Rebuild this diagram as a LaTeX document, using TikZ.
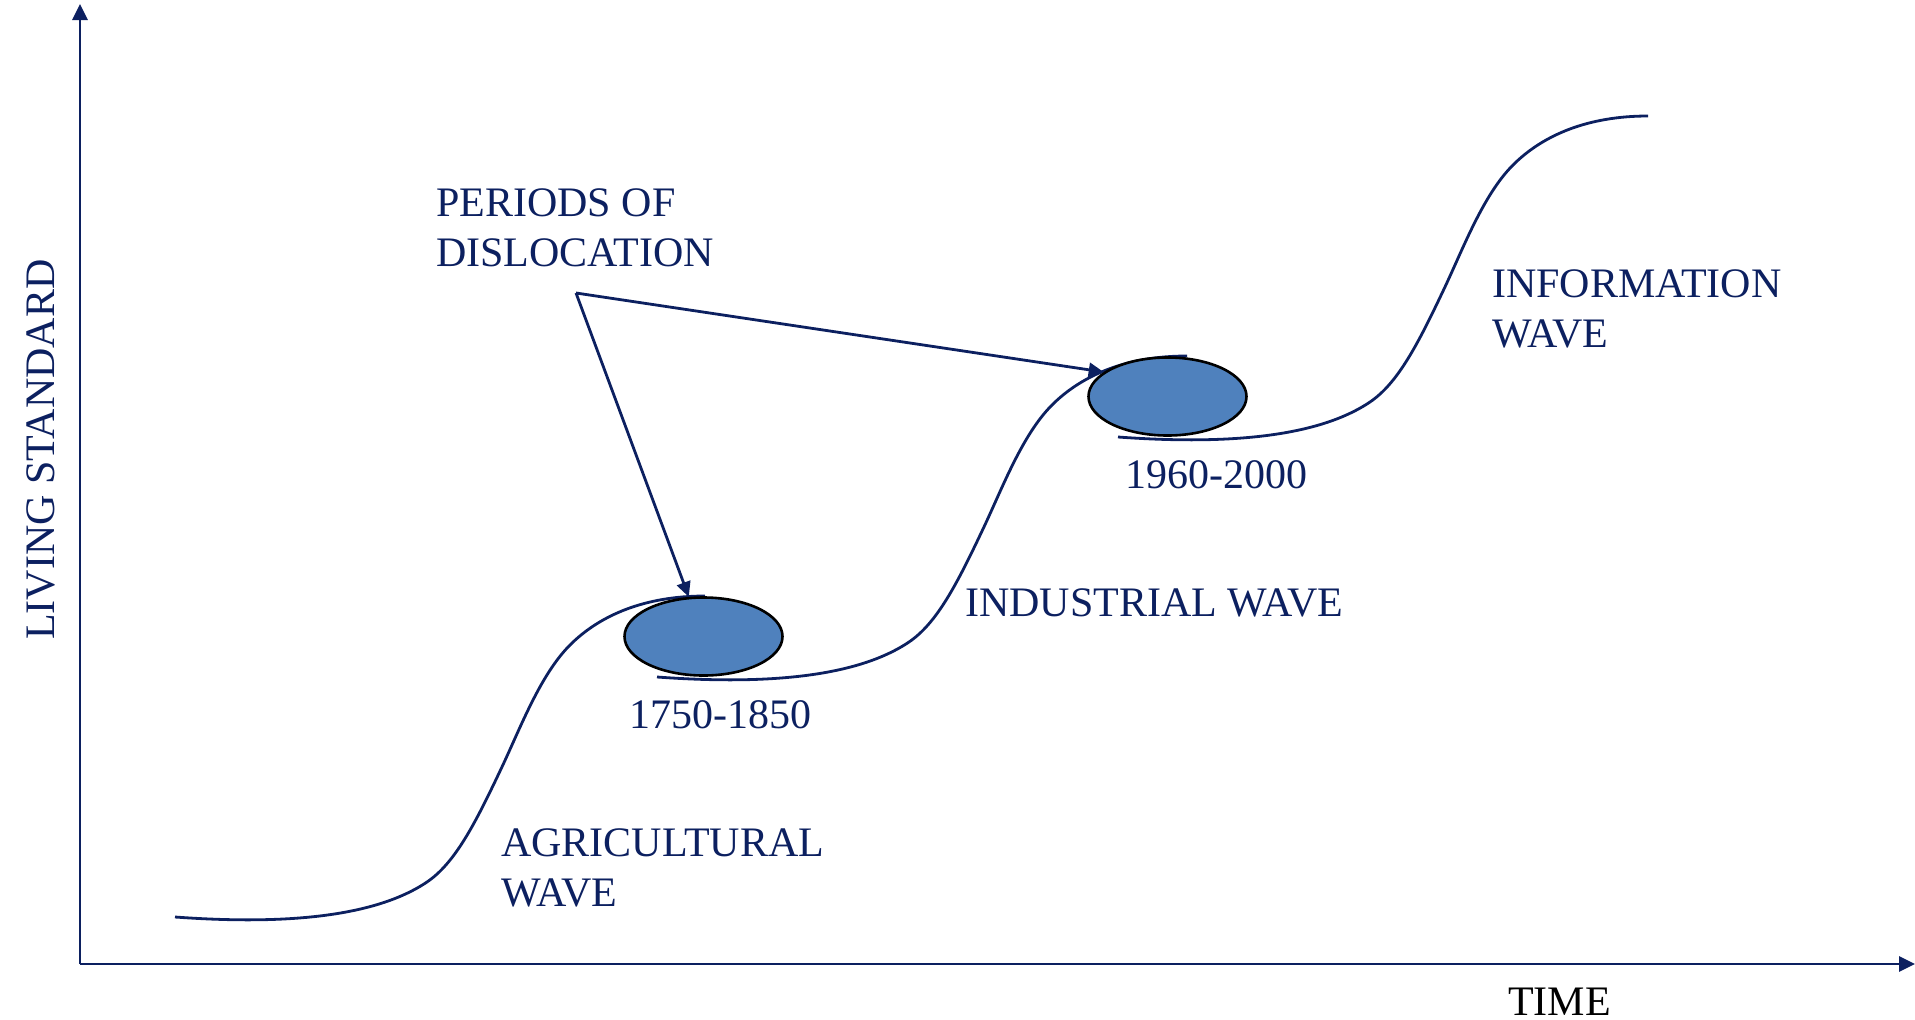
\documentclass[tikz,border=0pt]{standalone}
\usepackage{fontspec}
\setmainfont{Liberation Serif}
\usetikzlibrary{arrows.meta,shapes.geometric}
\definecolor{navy}{RGB}{12,32,96}
\definecolor{blobfill}{RGB}{79,129,189}
\tikzset{
  axis/.style={navy,line width=2.8pt,-{Triangle[length=16pt,width=15pt]}},
  curve/.style={navy,line width=2.8pt},
  pointer/.style={navy,line width=2.8pt,-{Triangle[length=15pt,width=14pt]}},
  blob/.style={ellipse,draw=black,line width=2.6pt,fill=blobfill,inner sep=0pt,minimum width=158pt,minimum height=78pt},
  lbl/.style={text=navy,inner sep=0pt,align=left,font=\fontsize{42}{50}\selectfont},
  wave/.pic={\draw[curve] (0,0) .. controls (110,8) and (200,0) .. (252,-35)
      .. controls (280,-54) and (300,-93) .. (326,-148)
      .. controls (345,-188) and (365,-242) .. (395,-272)
      .. controls (425,-302) and (470,-321) .. (530,-321);}
}
\begin{document}
\begin{tikzpicture}[x=1pt,y=-1pt]
\useasboundingbox (0,0) rectangle (1915,1020);
\clip (0,0) rectangle (1915,1020);
% axes
\coordinate (origin) at (80,964);
\coordinate (ytip) at (80,4);
\coordinate (xtip) at (1915,964);
\draw[axis] (origin) -- (ytip);
\draw[axis] (origin) -- (xtip);
% waves
\pic at (175,917) {wave};
\pic at (657,677) {wave};
\pic at (1118,437) {wave};
% dislocation blobs
\node[blob] (e1) at (703.5,636.5) {};
\node[blob] (e2) at (1167.5,396.5) {};
% pointers
\coordinate (apex) at (576,293);
\draw[pointer] (apex) -- (e1);
\draw[pointer] (apex) -- (e2.159);
% labels
\node[lbl,anchor=base west] (pd) at (436,266) {PERIODS OF\\DISLOCATION};
\node[lbl,anchor=base west] (iw) at (1492,347) {INFORMATION\\WAVE};
\node[lbl,anchor=base west] (indw) at (965,616) {INDUSTRIAL WAVE};
\node[lbl,anchor=base west] (aw) at (501,906) {AGRICULTURAL\\WAVE};
\node[lbl,anchor=base west] (d1) at (629,728) {1750-1850};
\node[lbl,anchor=base west] (d2) at (1125,488) {1960-2000};
\node[lbl,anchor=base west,text=black] (time) at (1508,1015) {TIME};
\node[lbl,anchor=base west,rotate=90] (ls) at (54,640) {LIVING STANDARD};
\end{tikzpicture}
\end{document}
